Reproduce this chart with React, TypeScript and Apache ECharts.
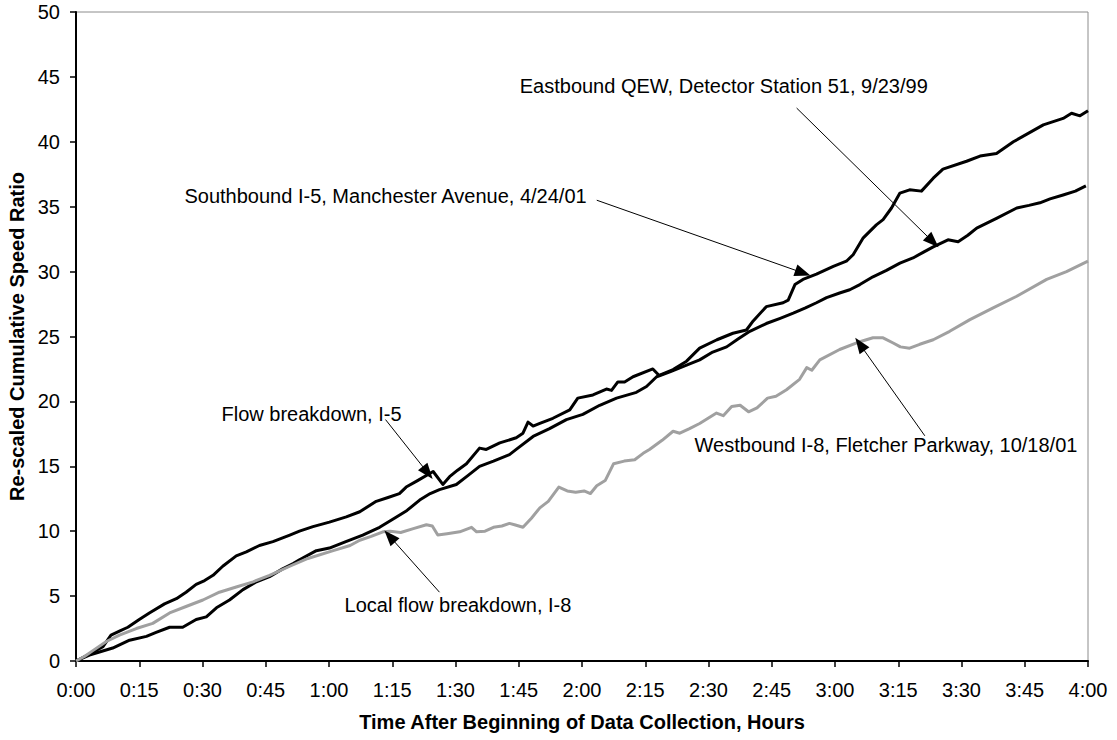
import React, { useEffect, useRef } from "react";
import * as echarts from "echarts";

const FONT = '"Liberation Sans", Arial, Helvetica, sans-serif';

// minutes after start, re-scaled cumulative speed ratio
const southboundI5: [number, number][] = [
  [0, 0], [3, 0.5], [6.4, 1.1], [8.3, 2.0], [10.3, 2.3], [12.3, 2.6], [15, 3.2], [17.4, 3.7], [21, 4.4],
  [23.8, 4.8], [26.1, 5.3], [28.5, 5.9], [30.5, 6.2], [32.5, 6.6], [34.8, 7.3], [38, 8.1], [40.4, 8.4],
  [43.5, 8.9], [46.7, 9.2], [50.7, 9.7], [53, 10.0], [56.2, 10.35], [60.1, 10.7], [64.1, 11.1], [67.3, 11.5],
  [71.2, 12.3], [74, 12.6], [76.7, 12.9], [78.3, 13.4], [81, 13.9], [84.7, 14.6], [87, 13.6], [88.6, 14.2],
  [90.5, 14.7], [92.6, 15.2], [95.7, 16.4], [97.3, 16.3], [100.5, 16.8], [104.4, 17.2], [106, 17.55],
  [107.2, 18.4], [108.4, 18.1], [110, 18.3], [113.1, 18.7], [117.1, 19.35], [119, 20.25], [122.6, 20.5],
  [125.8, 20.95], [127, 20.85], [128.5, 21.5], [130.1, 21.5], [132.1, 21.9], [136.8, 22.5], [138.3, 22.0],
  [141.6, 22.45], [144.8, 23.1], [147.9, 24.1], [152, 24.75], [155.8, 25.25], [159, 25.5], [160.6, 26.2],
  [163.7, 27.3], [167.7, 27.6], [168.9, 27.8], [170.5, 29.0], [172.4, 29.4], [175.6, 29.8], [179.6, 30.4],
  [182.7, 30.8], [184.3, 31.3], [186.7, 32.6], [189.8, 33.6], [191.4, 34.0], [193.4, 34.9], [195.4, 36.05],
  [197.7, 36.3], [200.5, 36.2], [203.3, 37.2], [205.6, 37.9], [211.2, 38.5], [214.4, 38.9], [218.3, 39.1],
  [222.3, 40.0], [229.4, 41.3], [234.1, 41.8], [236.1, 42.2], [238.1, 42.0], [240, 42.4],
];

const eastboundQEW: [number, number][] = [
  [0, 0], [3.2, 0.46], [8.7, 1.0], [12.7, 1.6], [16.7, 1.9], [19, 2.2], [22.2, 2.6], [25.3, 2.6], [28.5, 3.2],
  [30.9, 3.4], [33.3, 4.1], [36.4, 4.7], [39.6, 5.5], [42.8, 6.1], [45.9, 6.5], [49, 7.1], [51.5, 7.5],
  [53, 7.8], [57, 8.5], [60.1, 8.7], [64, 9.2], [68, 9.7], [72, 10.3], [76, 11.1], [78.5, 11.6], [81.5, 12.4],
  [84, 12.9], [86.2, 13.2], [90.2, 13.6], [93, 14.3], [95.7, 15.0], [99, 15.4], [102.8, 15.9], [104.4, 16.3],
  [108.4, 17.3], [112.3, 17.9], [116.3, 18.6], [120.2, 19.0], [124.2, 19.7], [128.2, 20.25], [132.9, 20.7],
  [135.3, 21.15], [137.7, 21.9], [141, 22.3], [144.8, 22.8], [147.9, 23.2], [151, 23.8], [154.3, 24.2],
  [157, 24.8], [159.8, 25.4], [163.7, 26.0], [167, 26.4], [170.1, 26.8], [173, 27.2], [175.6, 27.6],
  [178, 28.0], [181.1, 28.35], [183.5, 28.6], [185.9, 29.0], [189, 29.6], [192.2, 30.1], [195.4, 30.65],
  [198.5, 31.05], [201, 31.5], [203.3, 31.9], [206.8, 32.45], [209.2, 32.3], [211.5, 32.8], [213.6, 33.35],
  [218.3, 34.1], [223.1, 34.9], [226, 35.1], [228.6, 35.3], [231, 35.6], [234.1, 35.9], [237, 36.2],
  [239.5, 36.6],
];

const westboundI8: [number, number][] = [
  [0, 0], [2, 0.35], [4, 0.8], [7.2, 1.5], [10.3, 2.0], [14.3, 2.5], [18.2, 2.9], [22.2, 3.7], [26.1, 4.2],
  [30.1, 4.7], [34, 5.3], [38, 5.7], [42, 6.1], [45.9, 6.6], [50.7, 7.3], [55, 7.9], [61, 8.5], [65, 8.9],
  [67.3, 9.3], [70, 9.6], [72.8, 9.95], [74.5, 10.0], [77, 9.9], [80, 10.2], [83.1, 10.5], [84.5, 10.4],
  [85.8, 9.7], [88, 9.8], [91, 9.95], [93.8, 10.3], [95, 9.95], [97, 10.0], [99, 10.3], [101, 10.4],
  [102.8, 10.6], [104, 10.5], [106, 10.3], [108, 11.0], [110, 11.8], [112, 12.3], [114.5, 13.4],
  [116.5, 13.1], [118.5, 13.0], [120.5, 13.1], [122, 12.9], [123.5, 13.5], [125.5, 13.9], [127.5, 15.2],
  [130, 15.4], [132.5, 15.5], [134.5, 16.0], [136, 16.3], [139, 17.0], [141.6, 17.7], [143.2, 17.55],
  [145.5, 17.9], [147.9, 18.3], [151.9, 19.1], [153.5, 18.9], [155.5, 19.6], [157.5, 19.7], [159.5, 19.2],
  [161.5, 19.5], [164, 20.25], [166, 20.4], [168.5, 20.9], [171.6, 21.7], [173.3, 22.6], [174.5, 22.4],
  [176.4, 23.2], [181.1, 24.0], [185.9, 24.6], [189, 24.9], [191.4, 24.9], [193.8, 24.5], [195.5, 24.2],
  [197.7, 24.1], [200.1, 24.4], [203.3, 24.75], [207.2, 25.4], [212, 26.3], [217.5, 27.2], [223.1, 28.1],
  [230.2, 29.4], [234.9, 30.0], [240, 30.8],
];

// annotation texts: [label, anchor minute, anchor value, align]
const annotationTexts: [string, number, number, string][] = [
  ["Eastbound QEW, Detector Station 51, 9/23/99", 202.0, 44.3, "right"],
  ["Southbound I-5, Manchester Avenue, 4/24/01", 121.1, 35.8, "right"],
  ["Flow breakdown, I-5", 34.5, 19.0, "left"],
  ["Local flow breakdown, I-8", 63.7, 4.3, "left"],
  ["Westbound I-8, Fletcher Parkway, 10/18/01", 146.7, 16.65, "left"],
];

// arrows: [from minute, from value, to minute, to value]
const annotationArrows: [number, number, number, number][] = [
  [170.9, 42.6, 203.2, 32.3],
  [123.5, 35.5, 172.4, 29.9],
  [73.4, 18.6, 83.4, 14.5],
  [86.2, 5.3, 74.4, 9.6],
  [201.3, 17.35, 185.9, 24.4],
];

const fmtTime = (m: number) => `${Math.floor(m / 60)}:${String(Math.round(m % 60)).padStart(2, "0")}`;

export default function App() {
  const ref = useRef<HTMLDivElement>(null);
  useEffect(() => {
    if (!ref.current) return;
    const chart = echarts.init(ref.current, undefined, { renderer: "svg" });
    const lineSeries = (name: string, data: [number, number][], color: string) => ({
      name,
      type: "line",
      data,
      showSymbol: false,
      symbol: "none",
      lineStyle: { color, width: 3, join: "round" },
      itemStyle: { color },
      silent: true,
      z: 2,
    });
    const s1: any = lineSeries("Southbound I-5, Manchester Avenue, 4/24/01", southboundI5, "#000000");
    s1.markLine = {
      silent: true,
      symbol: ["none", "triangle"],
      symbolSize: [12, 16],
      lineStyle: { color: "#000", width: 1, type: "solid" },
      label: { show: false },
      emphasis: { disabled: true },
      data: annotationArrows.map(([a, b, c, d]) => [{ coord: [a, b] }, { coord: [c, d] }]),
    };
    chart.setOption({
      animation: false,
      textStyle: { fontFamily: FONT },
      grid: {
        left: 76,
        top: 12,
        right: 29,
        bottom: 79,
        show: true,
        borderColor: "#8c8c8c",
        borderWidth: 1,
        containLabel: false,
        outerBoundsMode: "none",
      },
      xAxis: {
        type: "value",
        min: 0,
        max: 240,
        interval: 15,
        axisLine: { onZero: false, lineStyle: { color: "#000", width: 2 } },
        axisTick: { length: 6, lineStyle: { color: "#000", width: 1.5 } },
        axisLabel: { formatter: fmtTime, fontSize: 20, color: "#000", margin: 19, fontFamily: FONT },
        splitLine: { show: false },
        name: "Time After Beginning of Data Collection, Hours",
        nameLocation: "middle",
        nameGap: 51,
        nameTextStyle: { fontWeight: "bold", fontSize: 20, color: "#000", fontFamily: FONT },
      },
      yAxis: {
        type: "value",
        min: 0,
        max: 50,
        interval: 5,
        axisLine: { onZero: false, lineStyle: { color: "#000", width: 2 } },
        axisTick: { length: 6, lineStyle: { color: "#000", width: 1.5 } },
        axisLabel: { fontSize: 20, color: "#000", margin: 16, fontFamily: FONT },
        splitLine: { show: false },
        name: "Re-scaled Cumulative Speed Ratio",
        nameLocation: "middle",
        nameRotate: 90,
        nameGap: 47,
        nameTextStyle: { fontWeight: "bold", fontSize: 20, color: "#000", fontFamily: FONT },
      },
      series: [
        s1,
        lineSeries("Eastbound QEW, Detector Station 51, 9/23/99", eastboundQEW, "#000000"),
        lineSeries("Westbound I-8, Fletcher Parkway, 10/18/01", westboundI8, "#a0a0a0"),
      ],
    });
    const graphics = annotationTexts.map(([text, m, v, align]) => {
      const p = chart.convertToPixel({ gridIndex: 0 }, [m, v]) as number[];
      return {
        type: "text",
        x: p[0],
        y: p[1],
        silent: true,
        z: 10,
        style: { text, fontSize: 20, fontFamily: FONT, fill: "#000", align, verticalAlign: "middle" },
      };
    });
    chart.setOption({ graphic: graphics });
    return () => chart.dispose();
  }, []);
  return (
    <div
      ref={ref}
      style={{ position: "fixed", left: 0, top: 0, width: 1117, height: 740, background: "#fff" }}
    />
  );
}
